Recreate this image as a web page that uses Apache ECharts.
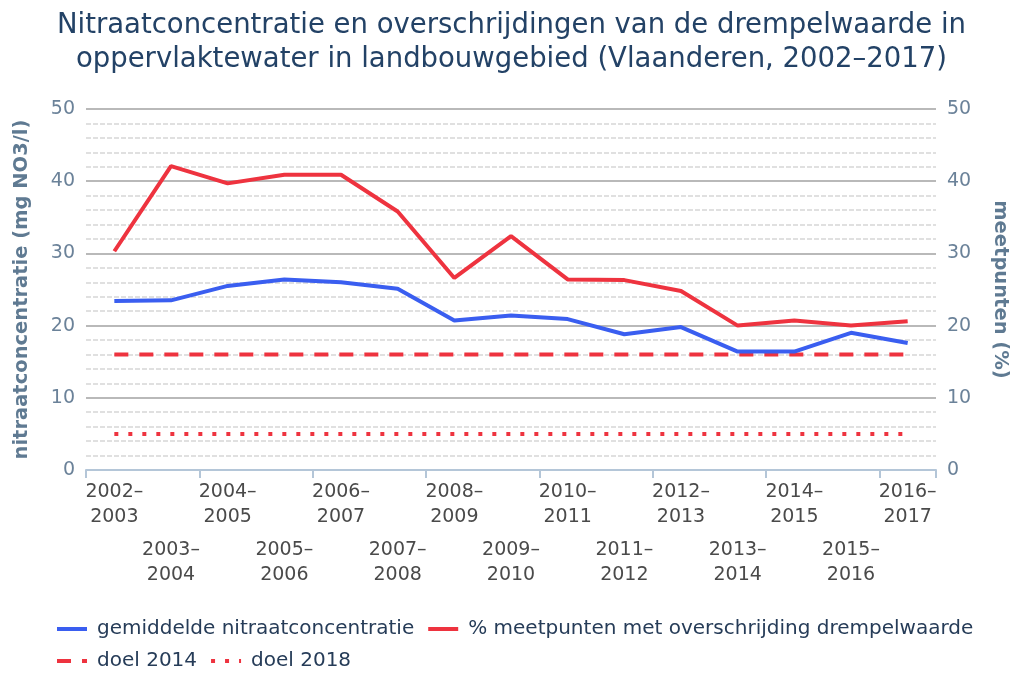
<!DOCTYPE html>
<html>
<head>
<meta charset="utf-8">
<script src="https://cdn.jsdelivr.net/npm/echarts@6/dist/echarts.min.js"></script>
<style>html,body{margin:0;padding:0;background:#fff}#c{width:1023px;height:684px}</style>
</head>
<body>
<div id="c"></div>
<script>
const categories = ["2002–\n2003","2003–\n2004","2004–\n2005","2005–\n2006","2006–\n2007","2007–\n2008","2008–\n2009","2009–\n2010","2010–\n2011","2011–\n2012","2012–\n2013","2013–\n2014","2014–\n2015","2015–\n2016","2016–\n2017"];
const nitraat = [23.4,23.5,25.5,26.4,26.0,25.1,20.7,21.4,20.9,18.8,19.8,16.4,16.4,19.0,17.6];
const overschrijding = [30.3,42.1,39.7,40.9,40.9,35.8,26.6,32.4,26.4,26.3,24.8,20.0,20.7,20.0,20.6];
const doel2014 = [16,16,16,16,16,16,16,16,16,16,16,16,16,16,16];
const doel2018 = [5,5,5,5,5,5,5,5,5,5,5,5,5,5,5];
const yTicks = [0,10,20,30,40,50];

const FONT = "'DejaVu Sans', Verdana, sans-serif";
const BLUE = '#3a5ef0';
const RED = '#ee333f';
const chart = echarts.init(document.getElementById('c'), null, {renderer:'canvas'});

const yAxisCommon = {
  type:'value', min:yTicks[0], max:yTicks[yTicks.length-1], interval:10,
  axisLine:{show:false}, axisTick:{show:false},
  axisLabel:{color:'#6b8299', fontSize:19, fontFamily:FONT, margin:11},
  splitLine:{show:true, lineStyle:{color:'#b9b9b9', width:2}},
  minorTick:{show:false, splitNumber:5},
  minorSplitLine:{show:true, lineStyle:{color:'#e0e0e0', width:2, type:[5,2]}},
  nameLocation:'middle',
  nameTextStyle:{color:'#5f7a92', fontSize:19.5, fontWeight:'bold', fontFamily:FONT}
};

const legendCommon = {
  left:50, itemWidth:30, itemHeight:4, itemGap:12,
  itemStyle:{opacity:0},
  lineStyle:{width:4},
  textStyle:{color:'#263c58', fontSize:20, fontFamily:FONT, padding:[0,0,0,5]}
};

chart.setOption({
  animation:false,
  title:{
    text:'Nitraatconcentratie en overschrijdingen van de drempelwaarde in\noppervlaktewater in landbouwgebied (Vlaanderen, 2002–2017)',
    left:'center', top:4,
    textStyle:{color:'#234266', fontSize:27.5, fontWeight:'normal', fontFamily:FONT, lineHeight:34}
  },
  legend:[
    Object.assign({}, legendCommon, {top:614, data:['gemiddelde nitraatconcentratie','% meetpunten met overschrijding drempelwaarde']}),
    Object.assign({}, legendCommon, {top:646, data:['doel 2014','doel 2018']})
  ],
  grid:{left:86, right:87, top:109, bottom:214},
  xAxis:[{
    type:'category', data:categories, boundaryGap:true,
    axisLine:{show:true, lineStyle:{color:'#b4c6d8', width:2}},
    axisTick:{show:true, alignWithLabel:false, length:8, lineStyle:{color:'#b4c6d8', width:2}},
    axisLabel:{interval:1, color:'#4a4a4a', fontSize:19, fontFamily:FONT, lineHeight:25, margin:10},
    splitLine:{show:false}
  },{
    type:'category', data:categories, boundaryGap:true, position:'bottom', offset:58,
    axisLine:{show:false}, axisTick:{show:false},
    axisLabel:{interval:function(i){return i%2===1;}, color:'#4a4a4a', fontSize:19, fontFamily:FONT, lineHeight:25, margin:10},
    splitLine:{show:false}
  }],
  yAxis:[
    Object.assign({}, yAxisCommon, {position:'left', name:'nitraatconcentratie (mg NO3/l)', nameGap:54}),
    Object.assign({}, yAxisCommon, {position:'right', name:'meetpunten (%)', nameGap:54, nameRotate:-90,
      splitLine:{show:false}, minorSplitLine:{show:false}})
  ],
  series:[
    {name:'gemiddelde nitraatconcentratie', type:'line', data:nitraat, symbol:'none', xAxisIndex:0, yAxisIndex:0,
      lineStyle:{color:BLUE, width:4}, itemStyle:{color:BLUE}, z:4},
    {name:'% meetpunten met overschrijding drempelwaarde', type:'line', data:overschrijding, symbol:'none', xAxisIndex:0, yAxisIndex:1,
      lineStyle:{color:RED, width:4}, itemStyle:{color:RED}, z:4},
    {name:'doel 2014', type:'line', data:doel2014, symbol:'none', xAxisIndex:0, yAxisIndex:0,
      lineStyle:{color:RED, width:4, type:[14,11]}, itemStyle:{color:RED}, z:3},
    {name:'doel 2018', type:'line', data:doel2018, symbol:'none', xAxisIndex:0, yAxisIndex:0,
      lineStyle:{color:RED, width:4, type:[4,10]}, itemStyle:{color:RED}, z:3}
  ]
});
</script>
</body>
</html>
